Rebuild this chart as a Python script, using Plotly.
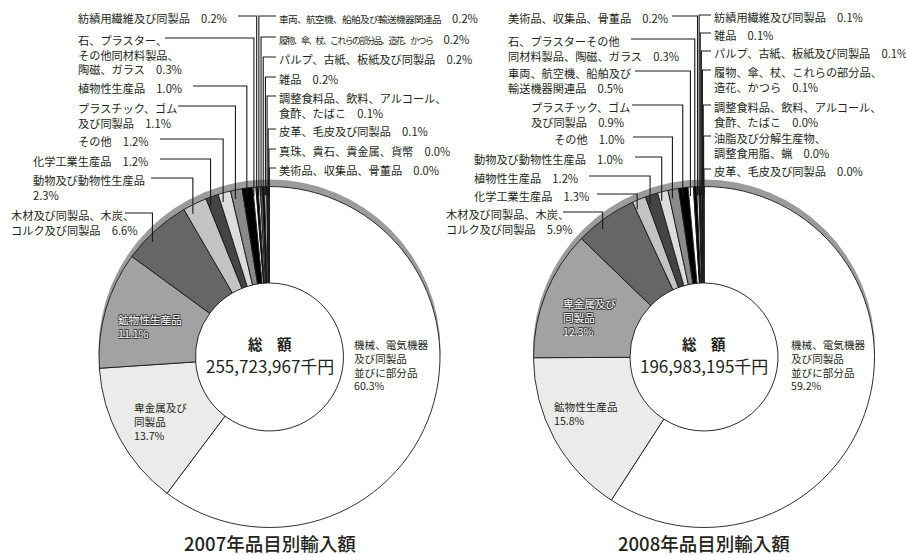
import math
import plotly.graph_objects as go

W, H = 906, 555

# ---------------- data ----------------
names_2007 = [
    "機械、電気機器及び同製品並びに部分品", "卑金属及び同製品", "鉱物性生産品",
    "木材及び同製品、木炭、コルク及び同製品", "動物及び動物性生産品", "化学工業生産品",
    "その他", "プラスチック、ゴム及び同製品", "植物性生産品",
    "石、プラスター、その他同材料製品、陶磁、ガラス", "紡績用繊維及び同製品",
    "車両、航空機、船舶及び輸送機器関連品", "履物、傘、杖、これらの部分品、造花、かつら",
    "パルプ、古紙、板紙及び同製品", "雑品", "調整食料品、飲料、アルコール、食酢、たばこ",
    "皮革、毛皮及び同製品", "真珠、貴石、貴金属、貨幣", "美術品、収集品、骨董品",
]
values_2007 = [60.3, 13.7, 11.1, 6.6, 2.3, 1.2, 1.2, 1.1, 1.0, 0.3, 0.2,
               0.2, 0.2, 0.2, 0.2, 0.1, 0.1, 0.04, 0.03]
total_2007 = "255,723,967千円"

names_2008 = [
    "機械、電気機器及び同製品並びに部分品", "鉱物性生産品", "卑金属及び同製品",
    "木材及び同製品、木炭、コルク及び同製品", "化学工業生産品", "植物性生産品",
    "動物及び動物性生産品", "その他", "プラスチック、ゴム及び同製品",
    "車両、航空機、船舶及び輸送機器関連品", "石、プラスター、その他同材料製品、陶磁、ガラス",
    "美術品、収集品、骨董品", "紡績用繊維及び同製品", "雑品", "パルプ、古紙、板紙及び同製品",
    "履物、傘、杖、これらの部分品、造花、かつら", "調整食料品、飲料、アルコール、食酢、たばこ",
    "油脂及び分解生産物、調整食用脂、蝋", "皮革、毛皮及び同製品",
]
values_2008 = [59.2, 15.8, 12.3, 5.9, 1.3, 1.2, 1.0, 1.0, 0.9, 0.5, 0.3,
               0.2, 0.1, 0.1, 0.1, 0.1, 0.04, 0.03, 0.02]
total_2008 = "196,983,195千円"

titles = ["2007年品目別輸入額", "2008年品目別輸入額"]

# ---------------- styles ----------------
FONT = "Noto Sans CJK JP"
TXT = "#231f20"
slice_colors = ["#ffffff", "#ebebea", "#a2a2a2", "#666666", "#c3c3c3", "#444444",
                "#dcdcdc", "#8a8a8a", "#000000", "#ffffff", "#000000", "#ffffff",
                "#777777", "#000000", "#ffffff", "#000000", "#bbbbbb", "#000000", "#ffffff"]

R = 170.5
HOLE = 74.0
centers = [(269.5, 357.0), (704.0, 357.0)]

def px(x):
    return x / W

def py(y):
    return 1 - y / H

fig = go.Figure()
shapes = []
annotations = []

for (cx, cy), vals, names in zip(centers, [values_2007, values_2008], [names_2007, names_2008]):
    fig.add_trace(go.Pie(
        values=vals, labels=names, sort=False, direction="clockwise", rotation=0,
        hole=HOLE / R, textinfo="none", showlegend=False, hoverinfo="label+percent",
        marker=dict(colors=slice_colors[:len(vals)], line=dict(color="#1a1a1a", width=0.9)),
        domain=dict(x=[px(cx - R), px(cx + R)], y=[py(cy + R), py(cy - R)]),
    ))
    # grey shadow ring behind the pie top
    shapes.append(dict(type="circle", xref="paper", yref="paper", layer="below",
                       x0=px(cx - R - 0.5), x1=px(cx + R + 0.5),
                       y0=py(cy - 6.5 + R + 0.5), y1=py(cy - 6.5 - R - 0.5),
                       fillcolor="#9b9b9b", line=dict(width=0)))
    shapes.append(dict(type="circle", xref="paper", yref="paper", layer="below",
                       x0=px(cx - HOLE), x1=px(cx + HOLE),
                       y0=py(cy + HOLE), y1=py(cy - HOLE),
                       fillcolor="#ffffff", line=dict(width=0)))

# ---------------- labels ----------------
COND1 = "font-size:9.6px;letter-spacing:-0.6px"
COND2 = "font-size:8.8px;letter-spacing:-1.5px"
label_text_2007 = {
    3: "木材及び同製品、木炭、<br>コルク及び同製品　{p}",
    4: "動物及び動物性生産品<br>{p}",
    5: "化学工業生産品　{p}",
    6: "その他　{p}",
    7: "プラスチック、ゴム<br>及び同製品　{p}",
    8: "植物性生産品　{p}",
    9: "石、プラスター、<br>その他同材料製品、<br>陶磁、ガラス　{p}",
    10: "紡績用繊維及び同製品　{p}",
    11: f"<span style='{COND1}'>車両、航空機、船舶及び輸送機器関連品</span>　{{p}}",
    12: f"<span style='{COND2}'>履物、傘、杖、これらの部分品、造花、かつら</span>　{{p}}",
    13: "パルプ、古紙、板紙及び同製品　{p}",
    14: "雑品　{p}",
    15: "調整食料品、飲料、アルコール、<br>食酢、たばこ　{p}",
    16: "皮革、毛皮及び同製品　{p}",
    17: "真珠、貴石、貴金属、貨幣　{p}",
    18: "美術品、収集品、骨董品　{p}",
}
# index: (text x, first-line y, horizontal line start x)
label_pos_2007 = {
    3: (10, 213, 125), 4: (32, 178, 151), 5: (32, 159, 160), 6: (77, 139, 160),
    7: (77, 106, 178), 8: (77, 86, 193), 9: (77, 38, 165), 10: (77, 16, 238),
    11: (278, 16, 276), 12: (278, 37, 276), 13: (278, 57, 276), 14: (278, 77, 276),
    15: (278, 96, 276), 16: (278, 129, 276), 17: (278, 149, 276), 18: (278, 168, 276),
}
label_text_2008 = {
    3: "木材及び同製品、木炭、<br>コルク及び同製品　{p}",
    4: "化学工業生産品　{p}",
    5: "植物性生産品　{p}",
    6: "動物及び動物性生産品　{p}",
    7: "その他　{p}",
    8: "プラスチック、ゴム<br>及び同製品　{p}",
    9: "車両、航空機、船舶及び<br>輸送機器関連品　{p}",
    10: "石、プラスターその他<br>同材料製品、陶磁、ガラス　{p}",
    11: "美術品、収集品、骨董品　{p}",
    12: "紡績用繊維及び同製品　{p}",
    13: "雑品　{p}",
    14: "パルプ、古紙、板紙及び同製品　{p}",
    15: "履物、傘、杖、これらの部分品、<br>造花、かつら　{p}",
    16: "調整食料品、飲料、アルコール、<br>食酢、たばこ　{p}",
    17: "油脂及び分解生産物、<br>調整食用脂、蝋　{p}",
    18: "皮革、毛皮及び同製品　{p}",
}
label_pos_2008 = {
    3: (445, 212, 563), 4: (473, 194, 597), 5: (473, 176, 589), 6: (473, 157, 635),
    7: (553, 137, 633), 8: (530, 105, 632), 9: (507, 71, 635), 10: (507, 39, 631),
    11: (507, 16, 672),
    12: (713, 15, 711), 13: (713, 33, 711), 14: (713, 51, 711), 15: (713, 70, 711),
    16: (713, 105, 711), 17: (713, 136, 711), 18: (713, 169, 711),
}

LBL = 11.2

def top_of(yfirst, size):
    return yfirst - 0.65 * size

for (cx, cy), vals, texts, poss in zip(centers, [values_2007, values_2008],
                                       [label_text_2007, label_text_2008],
                                       [label_pos_2007, label_pos_2008]):
    tot = sum(vals)
    cum = 0.0
    mids = []
    for v in vals:
        mids.append((cum + v / 2) / tot)
        cum += v
    for i, t in texts.items():
        tx, ty, lx0 = poss[i]
        phi = 2 * math.pi * mids[i]
        vx = cx + 175 * math.sin(phi)
        dx = vx - cx
        yend = cy - math.sqrt(max(R * R - dx * dx, 0)) + 9
        path = f"M {px(lx0)},{py(ty)} L {px(vx)},{py(ty)} L {px(vx)},{py(yend)}"
        shapes.append(dict(type="path", xref="paper", yref="paper", path=path,
                           line=dict(color="#1a1a1a", width=1.1)))
        annotations.append(dict(
            xref="paper", yref="paper", x=px(tx), y=py(top_of(ty, LBL)),
            xanchor="left", yanchor="top", align="left", showarrow=False, borderpad=0,
            text=t.format(p=f"{vals[i]:.1f}%"),
            font=dict(family=FONT, size=LBL, color=TXT)))

# inside labels: (year index, slice index, text, x, first-line y, white?)
inside = [
    (0, 0, "機械、電気機器<br>及び同製品<br>並びに部分品<br>{p}", 353, 343, False),
    (0, 2, "鉱物性生産品<br>{p}", 117, 318, True),
    (0, 1, "卑金属及び<br>同製品<br>{p}", 133, 406, False),
    (1, 0, "機械、電気機器<br>及び同製品<br>並びに部分品<br>{p}", 790, 343, False),
    (1, 2, "卑金属及び<br>同製品<br>{p}", 562, 302, True),
    (1, 1, "鉱物性生産品<br>{p}", 553, 405, False),
]
INS = 10.6
OUTLINE = ("-0.8px -0.8px 0 #333, 0.8px -0.8px 0 #333, -0.8px 0.8px 0 #333, "
           "0.8px 0.8px 0 #333")
for yi, si, t, x, y, white in inside:
    vals = [values_2007, values_2008][yi]
    f = dict(family=FONT, size=INS, color="#ffffff" if white else TXT)
    if white:
        f["shadow"] = OUTLINE
    annotations.append(dict(
        xref="paper", yref="paper", x=px(x), y=py(top_of(y, INS)),
        xanchor="left", yanchor="top", align="left", showarrow=False, borderpad=0,
        text=t.format(p=f"{vals[si]:.1f}%"), font=f))

# centre totals and titles
for (cx, cy), total, title in zip(centers, [total_2007, total_2008], titles):
    annotations.append(dict(xref="paper", yref="paper", x=px(cx), y=py(343.5),
                            xanchor="center", yanchor="middle", showarrow=False,
                            text="<b>総　額</b>", font=dict(family=FONT, size=14.5, color=TXT)))
    annotations.append(dict(xref="paper", yref="paper", x=px(cx), y=py(365.5),
                            xanchor="center", yanchor="middle", showarrow=False,
                            text=total, font=dict(family=FONT, size=17, color=TXT)))
    annotations.append(dict(xref="paper", yref="paper", x=px(cx), y=py(543),
                            xanchor="center", yanchor="middle", showarrow=False,
                            text=title, font=dict(family=FONT, size=18.5, color=TXT,
                                                  weight=500)))

fig.update_layout(
    width=W, height=H, margin=dict(l=0, r=0, t=0, b=0, pad=0),
    paper_bgcolor="#ffffff", plot_bgcolor="#ffffff",
    shapes=shapes, annotations=annotations, showlegend=False,
)

fig.write_html("out.html", config={"displayModeBar": False},
               post_script="document.body.style.margin='0px';")
